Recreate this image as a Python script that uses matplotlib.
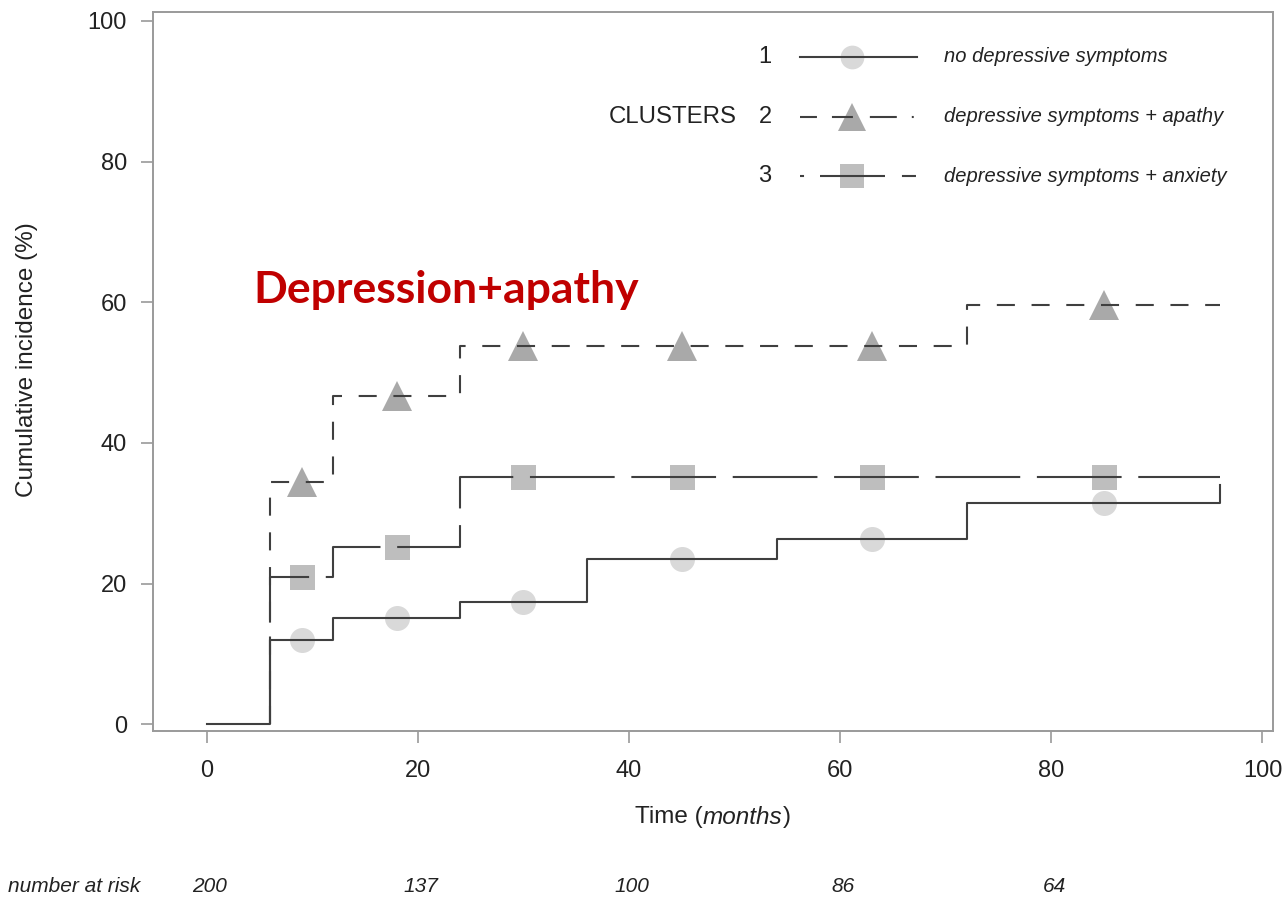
import matplotlib
matplotlib.use("Agg")
import matplotlib.pyplot as plt
import matplotlib.transforms as mtransforms
from matplotlib.lines import Line2D

plt.rcParams['font.family'] = ['Liberation Sans', 'DejaVu Sans']
plt.rcParams['lines.scale_dashes'] = False

# Step curves (time in months, cumulative incidence %)
t1 = [0, 6, 12, 24, 36, 54, 72, 96, 96]
y1 = [0, 12.0, 15.1, 17.4, 23.5, 26.3, 31.4, 31.4, 34.0]
t2 = [6, 6, 12, 24, 72, 96]
y2 = [0, 34.4, 46.7, 53.8, 59.6, 59.6]
t3 = [6, 6, 12, 24, 96]
y3 = [0, 20.9, 25.2, 35.2, 35.2]

# marker positions
mark_t = [9, 18, 30, 45, 63, 85]

cluster_ids = ["1", "2", "3"]
cluster_labels = ["no depressive symptoms",
                  "depressive symptoms + apathy",
                  "depressive symptoms + anxiety"]

risk_t = [0, 20, 40, 60, 80]
risk_n = [200, 137, 100, 86, 64]

x_ticks = [0, 20, 40, 60, 80, 100]
y_ticks = [0, 20, 40, 60, 80, 100]

line_col = "#3f3f3f"
m_cols = ["#d9d9d9", "#a9a9a9", "#bebebe"]
markers = ["o", "^", "s"]
msizes = [18, 21, 18]
styles = ["-", (0, (13, 12)), (0, (61, 12))]
legend_styles = ["-",
                 (0, (12.2, 10.8, 15.1, 12.2, 19.4, 10.8, 1.4, 5)),
                 (0, (2.9, 11.5, 46.8, 12.2, 10.1, 5))]
txt_col = "#222222"


def step_val(ts, ys, t):
    v = ys[0]
    for tt, yy in zip(ts, ys):
        if tt <= t:
            v = yy
    return v


W, H = 1286, 900
fig = plt.figure(figsize=(W / 100, H / 100), dpi=100)
ax = fig.add_axes([0.1187, 0.1878, 0.9899 - 0.1187, 0.9869 - 0.1878])

series = [(t1, y1), (t2, y2), (t3, y3)]
for i, (ts, ys) in enumerate(series):
    ax.plot(ts, ys, drawstyle="steps-post", color=line_col, lw=1.5,
            linestyle=styles[i], zorder=3)
    mv = [step_val(ts, ys, t) for t in mark_t]
    ax.plot(mark_t, mv, linestyle="none", marker=markers[i], ms=msizes[i],
            color=m_cols[i], markeredgewidth=0, zorder=2)

ax.set_xlim(-5.1, 101)
ax.set_ylim(-0.95, 101.3)
ax.set_xticks(x_ticks)
ax.set_yticks(y_ticks)
for sp in ax.spines.values():
    sp.set_color("#9a9a9a")
    sp.set_linewidth(1.4)
ax.tick_params(direction="out", length=8.6, width=1.2, color="#9a9a9a",
               labelsize=17, labelcolor=txt_col)
ax.tick_params(axis="x", pad=12)
ax.tick_params(axis="y", pad=10)

# x label in pieces to keep "months" italic
renderer = fig.canvas.get_renderer()
parts = [("Time (", "normal"), ("months", "italic"), (")", "normal")]
objs = [fig.text(0, 1 - 817 / H, p, fontsize=17.5, style=s, color=txt_col,
                 ha="left", va="center") for p, s in parts]
widths = [o.get_window_extent(renderer).width for o in objs]
x0 = 713 - sum(widths) / 2
for o, w in zip(objs, widths):
    o.set_x(x0 / W)
    x0 += w

fig.text(27 / W, 1 - 360 / H, "Cumulative incidence (%)", fontsize=17.5,
         color=txt_col, rotation=90, ha="center", va="center")

# Legend drawn manually
legend_y = [57, 117, 176]
for i in range(3):
    yf = 1 - legend_y[i] / H
    fig.text(765 / W, yf, cluster_ids[i], fontsize=17, color=txt_col,
             ha="center", va="center")
    fig.add_artist(Line2D([800 / W, 917 / W], [yf, yf], color=line_col, lw=1.5,
                          linestyle=legend_styles[i], zorder=3))
    fig.add_artist(Line2D([852 / W], [yf], marker=markers[i], ms=msizes[i] * 0.95,
                          color=m_cols[i], markeredgewidth=0, linestyle="none",
                          zorder=2))
    fig.text(944 / W, yf, cluster_labels[i], fontsize=14.5, style="italic",
             color=txt_col, ha="left", va="center")
fig.text(737 / W, 1 - 117 / H, "CLUSTERS", fontsize=17.3, color=txt_col,
         ha="right", va="center")

# Annotation
fig.text(253 / W, 1 - 290 / H, "Depression+apathy", fontsize=32,
         fontweight="bold", color="#c00000", family="Lato", ha="left",
         va="center")

# Number at risk
risk_y = 1 - 887 / H
fig.text(8 / W, risk_y, "number at risk", fontsize=15, style="italic",
         color=txt_col, ha="left", va="center")
trans = mtransforms.blended_transform_factory(ax.transData, fig.transFigure)
for t, n in zip(risk_t, risk_n):
    fig.text(t + 0.3, risk_y, str(n), fontsize=15, style="italic",
             color=txt_col, ha="center", va="center", transform=trans)

fig.savefig("out.png", dpi=100)
